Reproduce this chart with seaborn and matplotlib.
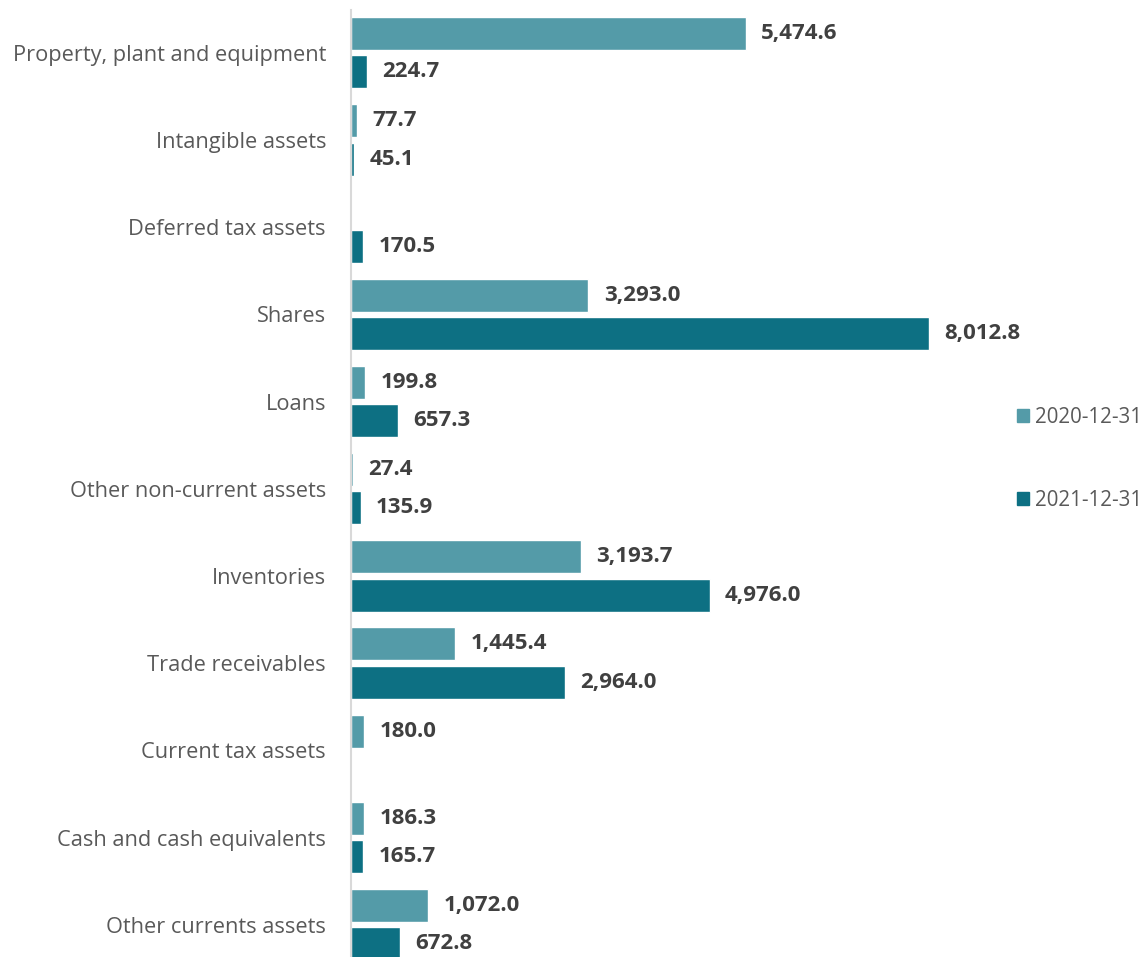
import numpy as np
import pandas as pd
import seaborn as sns
import matplotlib.pyplot as plt

# Balance sheet asset items, values in thousands
categories = [
    "Property, plant and equipment",
    "Intangible assets",
    "Deferred tax assets",
    "Shares",
    "Loans",
    "Other non-current assets",
    "Inventories",
    "Trade receivables",
    "Current tax assets",
    "Cash and cash equivalents",
    "Other currents assets",
]
periods = ["2020-12-31", "2021-12-31"]
values_2020 = [5474.6, 77.7, np.nan, 3293.0, 199.8, 27.4, 3193.7, 1445.4, 180.0, 186.3, 1072.0]
values_2021 = [224.7, 45.1, 170.5, 8012.8, 657.3, 135.9, 4976.0, 2964.0, np.nan, 165.7, 672.8]

df = pd.DataFrame({
    "item": categories * 2,
    "period": [periods[0]] * len(categories) + [periods[1]] * len(categories),
    "value": values_2020 + values_2021,
})
df["item"] = pd.Categorical(df["item"], categories=categories, ordered=True)

sns.set_theme(style="white")
plt.rcParams["font.family"] = ["Open Sans", "DejaVu Sans"]

fig = plt.figure(figsize=(11.41, 9.57), dpi=100)
ax = fig.add_axes([351 / 1141, 0, 649 / 1141, 947 / 957])

palette = {"2020-12-31": "#549BA8", "2021-12-31": "#0D7083"}
sns.barplot(data=df, y="item", x="value", hue="period", hue_order=periods,
            order=categories, palette=palette, orient="h", width=0.88, gap=0.14,
            saturation=1, errorbar=None, legend=False, ax=ax)

for cont in ax.containers:
    labels = ["" if np.isnan(w) or w == 0 else f"{w:,.1f}" for w in cont.datavalues]
    ax.bar_label(cont, labels=labels, padding=11, fontsize=16, fontweight="bold", color="#404040")

ax.set_xlim(0, 9000)
ax.set_ylim(10.37, -0.49)
ax.set_xlabel("")
ax.set_ylabel("")
ax.set_xticks([])
ax.tick_params(axis="y", length=0, pad=18, labelsize=15.7, labelcolor="#595959")
for side in ["top", "right", "bottom"]:
    ax.spines[side].set_visible(False)
ax.spines["left"].set_color("#D9D9D9")
ax.spines["left"].set_linewidth(1.5)

handles = [plt.Rectangle((0, 0), 1, 1, color=palette[p]) for p in periods]
fig.legend(handles, periods, loc="center left", bbox_to_anchor=(998 / 1141, 1 - 459 / 957),
           frameon=False, fontsize=14.8, labelcolor="#595959", handlelength=0.6,
           handleheight=0.6, handletextpad=0.3, labelspacing=3.0)

fig.savefig("out.png", dpi=100)
